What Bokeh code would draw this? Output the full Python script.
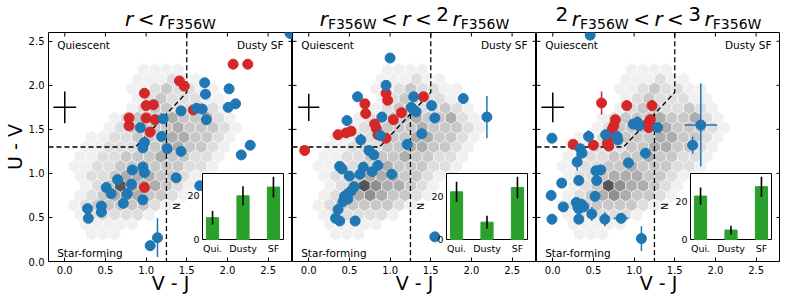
import numpy as np
from bokeh.plotting import figure
from bokeh.models import Range1d, Label, FixedTicker, PrintfTickFormatter
from bokeh.layouts import row, column
from bokeh.embed import file_html
from bokeh.resources import INLINE

# ---------------- data ----------------
X_TICKS = [0.0, 0.5, 1.0, 1.5, 2.0, 2.5]
Y_TICKS = [0.0, 0.5, 1.0, 1.5, 2.0, 2.5]

# UVJ selection boundaries
UVJ_X = [-0.2, 0.87, 1.5, 1.5]
UVJ_Y = [1.30, 1.30, 1.92, 2.6]
DSF_X = [1.25, 1.25]
DSF_Y = [1.674, 0.0]

# background hexbin (grey level per cell, rows from top, 0 = empty)
HEX_LEVELS = [
    "0000000111100000",
    "0000001112110000",
    "0000001123221100",
    "0000001232221100",
    "0000001233223210",
    "0000123334334210",
    "0000123333433321",
    "0011223334433210",
    "0011222334433210",
    "0112233343322100",
    "0112233433322100",
    "0122344433211000",
    "0012375443210000",
    "0123454332100000",
    "0123333321000000",
    "0122222100000000",
    "0011111000000000",
    "0011100000000000",
]
HEX_TOP_Y = 2.18
HEX_DY = 0.11
HEX_X0 = -0.026
HEX_DX = 0.142
GRAYS = ["#f0f0f0", "#dedede", "#c8c8c8", "#adadad", "#8f8f8f", "#727272", "#555555"]

TITLES = [
    [("r", "it"), ("<", "rel"), ("r", "it"), ("F356W", "sub")],
    [("r", "it"), ("F356W", "sub"), ("<", "rel"), ("r", "it"), ("<", "rel"),
     ("2", "num"), ("r", "it"), ("F356W", "sub")],
    [("2", "num"), ("r", "it"), ("F356W", "sub"), ("<", "rel"), ("r", "it"), ("<", "rel"),
     ("3", "num"), ("r", "it"), ("F356W", "sub")],
]

# panel 1
P1_RED_X = [2.07, 2.25, 1.41, 1.47, 0.98, 1.00, 1.09, 0.79, 0.79, 1.00, 1.11, 1.05, 0.98, 1.58]
P1_RED_Y = [2.24, 2.24, 2.05, 1.99, 1.91, 1.77, 1.78, 1.63, 1.54, 1.63, 1.61, 1.47, 0.84, 1.72]
P1_RED_XERR = [0] * 14
P1_RED_YERR = [0.05] + [0] * 13
P1_BLUE_X = [1.72, 1.73, 2.02, 2.01, 2.10, 2.28, 2.17, 1.62, 1.69, 1.74, 1.43, 1.21, 0.93, 1.19, 0.98,
             0.96, 1.26, 1.43, 0.96, 0.98, 0.83, 0.82, 0.65, 1.37, 0.51, 0.57, 0.77, 0.72, 0.96, 0.45,
             0.45, 0.28, 0.29, 1.14, 1.05, 1.66, 2.77]
P1_BLUE_Y = [2.03, 1.90, 1.96, 1.75, 1.79, 1.32, 1.21, 1.74, 1.73, 1.61, 1.71, 1.62, 1.52, 1.42, 1.35,
             1.29, 1.28, 1.25, 1.07, 1.01, 1.04, 0.88, 0.93, 0.95, 0.84, 0.77, 0.77, 0.66, 0.70, 0.63,
             0.56, 0.60, 0.49, 0.27, 0.18, 0.86, 2.59]
P1_BLUE_XERR = [0] * 37
P1_BLUE_YERR = [0, 0, 0, 0, 0.05] + [0] * 28 + [0.22, 0, 0, 0]

# panel 2
P2_RED_X = [-0.05, 0.36, 0.46, 0.52, 0.69, 0.70, 0.81, 0.83, 0.85, 0.95, 0.97, 1.04, 1.14, 1.41, 0.95]
P2_RED_Y = [1.26, 1.44, 1.46, 1.48, 1.79, 1.68, 1.56, 1.51, 1.44, 1.91, 1.83, 1.61, 1.69, 1.87, 1.40]
P2_RED_XERR = [0] * 15
P2_RED_YERR = [0] * 15
P2_BLUE_X = [1.00, 0.95, 0.60, 1.29, 1.51, 1.90, 2.19, 1.26, 1.29, 1.32, 1.55, 0.90, 0.47, 1.39, 0.64,
             0.88, 1.21, 0.74, 0.80, 0.67, 0.38, 0.41, 0.50, 0.78, 0.85, 1.02, 0.63, 0.56, 0.52, 0.48,
             0.44, 0.42, 0.48, 0.36, 0.33, 0.38, 0.57, 1.55]
P2_BLUE_Y = [2.31, 2.00, 1.87, 1.87, 1.77, 1.85, 1.64, 1.75, 1.72, 1.70, 1.63, 1.64, 1.60, 1.45, 1.38,
             1.43, 1.33, 1.26, 1.21, 1.07, 1.08, 1.05, 0.97, 1.02, 1.09, 0.99, 0.99, 0.85, 0.80, 0.77,
             0.74, 0.68, 0.71, 0.59, 0.49, 0.46, 0.46, 0.28]
P2_BLUE_XERR = [0, 0, 0, 0, 0, 0, 0.05] + [0] * 31
P2_BLUE_YERR = [0, 0, 0.06, 0, 0, 0.06, 0.24, 0, 0, 0, 0, 0, 0, 0, 0.07,
                0, 0, 0, 0, 0, 0.05] + [0] * 17

# panel 3
P3_RED_X = [0.60, 0.91, 1.22, 0.77, 0.75, 0.73, 1.20, 1.16, 1.18, 0.68, 0.25, 0.50, 0.67, 0.69]
P3_RED_Y = [1.80, 1.77, 1.77, 1.61, 1.54, 1.50, 1.61, 1.56, 1.52, 1.39, 1.33, 1.32, 1.34, 1.31]
P3_RED_XERR = [0] * 14
P3_RED_YERR = [0.13, 0.05] + [0] * 9 + [0.06, 0, 0]
P3_BLUE_X = [0.46, 1.82, 1.72, 1.29, 0.99, 1.04, 1.06, 1.14, 0.93, -0.01, 0.44, 0.65, 0.79, 0.80, 0.34,
             0.36, 0.30, 0.53, 0.59, 0.54, 0.32, 0.11, -0.02, 0.13, 0.52, 0.29, 0.31, 0.35, 0.38, 0.32,
             -0.01, 0.32, 0.48, 0.64, 0.84, 1.09]
P3_BLUE_Y = [2.57, 1.55, 1.32, 1.52, 1.56, 1.58, 1.54, 1.23, 1.12, 1.40, 1.42, 1.44, 1.42, 1.38, 1.28,
             1.23, 1.13, 1.03, 1.04, 0.92, 0.92, 0.89, 0.75, 0.62, 0.74, 0.67, 0.62, 0.65, 0.62, 0.60,
             0.48, 0.48, 0.54, 0.48, 0.49, 0.26]
P3_BLUE_XERR = [0, 0.20] + [0] * 32 + [0.09, 0]
P3_BLUE_YERR = [0, 0.47, 0.10, 0, 0, 0.07, 0, 0, 0, 0, 0.07, 0, 0, 0, 0,
                0, 0.10, 0, 0, 0, 0, 0, 0, 0, 0, 0, 0, 0, 0, 0,
                0, 0, 0.08, 0.08, 0, 0.14]

# typical uncertainty cross
ERR_CX = 0.0
ERR_CY = 1.75
ERR_XW = [0.14, 0.13, 0.14]
ERR_YW = [0.18, 0.155, 0.17]

# inset histograms
INSET_CATS = ["Qui.", "Dusty", "SF"]
INSET_N = [[10, 20, 24], [22, 8, 24], [23, 5, 28]]
INSET_ERR = [[3.1, 4.4, 4.8], [4.6, 2.9, 5.0], [4.6, 2.3, 5.3]]
INSET_TICKS = [0, 20]

PANELS = [
    (P1_RED_X, P1_RED_Y, P1_RED_XERR, P1_RED_YERR, P1_BLUE_X, P1_BLUE_Y, P1_BLUE_XERR, P1_BLUE_YERR),
    (P2_RED_X, P2_RED_Y, P2_RED_XERR, P2_RED_YERR, P2_BLUE_X, P2_BLUE_Y, P2_BLUE_XERR, P2_BLUE_YERR),
    (P3_RED_X, P3_RED_Y, P3_RED_XERR, P3_RED_YERR, P3_BLUE_X, P3_BLUE_Y, P3_BLUE_XERR, P3_BLUE_YERR),
]

# ---------------- layout / style ----------------
FW, FH = 244, 229
TITLE_H = 32
BOTTOM_BORDER = 36
LEFT_BORDER = 41
XR = (-0.2, 2.8)
YR = (0.0, 2.6)
PX_X = FW / (XR[1] - XR[0])
PX_Y = FH / (YR[1] - YR[0])
TICK_LEN = 4
RED = "#d62728"
BLUE = "#1f77b4"
GREEN = "#2ca02c"
FONT = "DejaVu Sans"
INSET_BOX = (154, 235, 22, 88)   # px inside frame: left, right, bottom, top
INSET_XLIM = (-0.33, 2.33)

ADV = {"r": 0.411, "<": 0.838, "2": 0.636, "3": 0.636, "5": 0.636, "6": 0.636,
       "F": 0.575, "W": 0.989}
MAIN_FS, SUB_FS, REL_PAD, NUM_PAD = 20, 14, 4.5, 3.5
MAIN_BASE, SUB_BASE, TOP_K = 8.0, 4.5, 0.86


def adv(s, fs):
    return sum(ADV[c] for c in s) * fs


def style_axis(ax):
    ax.major_tick_in = TICK_LEN
    ax.major_tick_out = 0
    ax.minor_tick_in = 0
    ax.minor_tick_out = 0
    ax.axis_line_color = None
    ax.major_tick_line_color = "black"
    ax.major_tick_line_width = 1
    ax.major_label_text_font = FONT
    ax.major_label_text_font_size = "10px"
    ax.major_label_text_color = "black"
    ax.major_label_standoff = 4
    ax.axis_label_text_font = FONT
    ax.axis_label_text_font_size = "19px"
    ax.axis_label_text_font_style = "normal"
    ax.axis_label_text_color = "black"


def make_title(i, x_range):
    first = i == 0
    t = figure(frame_width=FW, frame_height=TITLE_H, x_range=x_range, y_range=Range1d(0, TITLE_H),
               x_axis_type=None, y_axis_type=None, output_backend="svg", toolbar_location=None,
               min_border_left=LEFT_BORDER if first else 0, min_border_right=0,
               min_border_top=0, min_border_bottom=0)
    t.grid.visible = False
    t.outline_line_color = None
    t.background_fill_color = "white"
    t.border_fill_color = "white"
    pieces = []
    x = 0.0
    for txt, kind in TITLES[i]:
        if kind == "rel":
            x += REL_PAD
            pieces.append((txt, x, MAIN_FS, "normal", False))
            x += adv(txt, MAIN_FS) + REL_PAD
        elif kind == "it":
            pieces.append((txt, x, MAIN_FS, "italic", False))
            x += adv(txt, MAIN_FS)
        elif kind == "num":
            pieces.append((txt, x, MAIN_FS, "normal", False))
            x += adv(txt, MAIN_FS) + NUM_PAD
        else:
            pieces.append((txt, x, SUB_FS, "normal", True))
            x += adv(txt, SUB_FS)
    total = x
    for txt, px, fs, style, sub in pieces:
        xd = XR[0] + (FW / 2 - total / 2 + px) / PX_X
        yd = (SUB_BASE if sub else MAIN_BASE) + TOP_K * fs
        t.text(x=[xd], y=[yd], text=[txt], text_font={"value": FONT}, text_font_size=f"{fs}px",
               text_font_style=style, text_baseline="top", text_align="left",
               text_color="black")
    return t


def errbars(p, x, y, xe, ye, color):
    x, y, xe, ye = map(np.asarray, (x, y, xe, ye))
    m = ye > 0
    if m.any():
        p.segment(x0=x[m], y0=y[m] - ye[m], x1=x[m], y1=y[m] + ye[m], line_color=color, line_width=1.5)
    m = xe > 0
    if m.any():
        p.segment(x0=x[m] - xe[m], y0=y[m], x1=x[m] + xe[m], y1=y[m], line_color=color, line_width=1.5)


def make_panel(i):
    first = i == 0
    p = figure(frame_width=FW, frame_height=FH, x_range=Range1d(*XR), y_range=Range1d(*YR),
               output_backend="svg", toolbar_location=None,
               min_border_left=LEFT_BORDER if first else 0, min_border_right=0,
               min_border_top=0, min_border_bottom=BOTTOM_BORDER)
    p.grid.visible = False
    p.outline_line_color = "black"
    p.outline_line_width = 1
    p.outline_line_alpha = 1
    p.background_fill_color = "white"
    p.border_fill_color = "white"

    xa = p.xaxis[0]
    xa.ticker = FixedTicker(ticks=X_TICKS)
    xa.formatter = PrintfTickFormatter(format="%.1f")
    style_axis(xa)
    xa.axis_label = "V - J"
    xa.axis_label_standoff = -5

    if first:
        ya = p.yaxis[0]
        ya.ticker = FixedTicker(ticks=Y_TICKS)
        ya.formatter = PrintfTickFormatter(format="%.1f")
        style_axis(ya)
        ya.axis_label = "U - V"
        ya.axis_label_standoff = 0
    else:
        p.yaxis.visible = False

    # hexbin background
    hx, hy, hc = [], [], []
    for r, rowstr in enumerate(HEX_LEVELS):
        yv = HEX_TOP_Y - r * HEX_DY
        off = HEX_DX / 2 if r % 2 == 1 else 0.0
        for m, ch in enumerate(rowstr):
            lvl = int(ch)
            if lvl > 0:
                hx.append(HEX_X0 + off + m * HEX_DX)
                hy.append(yv)
                hc.append(GRAYS[lvl - 1])
    p.scatter(hx, hy, marker="hex", size=13.2, angle=np.pi / 6, fill_color=hc,
              line_color="white", line_width=0.5)

    # inward ticks on the other frame sides
    xt = np.array(X_TICKS)
    yt = np.array(Y_TICKS)
    p.segment(x0=xt, y0=[YR[1]] * len(xt), x1=xt, y1=[YR[1] - TICK_LEN / PX_Y] * len(xt),
              line_color="black", line_width=1)
    p.segment(x0=[XR[1]] * len(yt), y0=yt, x1=[XR[1] - TICK_LEN / PX_X] * len(yt), y1=yt,
              line_color="black", line_width=1)
    if not first:
        p.segment(x0=[XR[0]] * len(yt), y0=yt, x1=[XR[0] + TICK_LEN / PX_X] * len(yt), y1=yt,
                  line_color="black", line_width=1)

    # selection lines
    p.line(UVJ_X, UVJ_Y, line_color="black", line_width=1.3, line_dash="5 3")
    p.line(DSF_X, DSF_Y, line_color="black", line_width=1.3, line_dash="5 3")

    # typical error cross
    p.segment(x0=[ERR_CX - ERR_XW[i]], y0=[ERR_CY], x1=[ERR_CX + ERR_XW[i]], y1=[ERR_CY],
              line_color="black", line_width=1.5)
    p.segment(x0=[ERR_CX], y0=[ERR_CY - ERR_YW[i]], x1=[ERR_CX], y1=[ERR_CY + ERR_YW[i]],
              line_color="black", line_width=1.5)

    rx, ry, rxe, rye, bx, by, bxe, bye = PANELS[i]
    errbars(p, rx, ry, rxe, rye, RED)
    p.scatter(rx, ry, size=10, fill_color=RED, line_color=RED)
    errbars(p, bx, by, bxe, bye, BLUE)
    p.scatter(bx, by, size=10, fill_color=BLUE, line_color=BLUE)

    # region labels
    for txt, xd, yd, al in [("Quiescent", XR[0] + 8.7 / PX_X, YR[1] - 12 / PX_Y, "left"),
                            ("Dusty SF", XR[1] - 9 / PX_X, YR[1] - 12 / PX_Y, "right"),
                            ("Star-forming", XR[0] + 8.7 / PX_X, YR[0] + 9 / PX_Y, "left")]:
        p.add_layout(Label(x=xd, y=yd, text=txt, text_font=FONT, text_font_size="10.5px",
                           text_baseline="alphabetic", text_align=al, text_color="black"))

    # inset histogram
    n = np.array(INSET_N[i], dtype=float)
    e = np.array(INSET_ERR[i], dtype=float)
    iyt = 1.05 * float(np.max(n + e))
    l_px, r_px, b_px, t_px = INSET_BOX
    sx = (INSET_XLIM[1] - INSET_XLIM[0]) / (r_px - l_px)
    x0 = INSET_XLIM[0] - l_px * sx
    sy = iyt / (t_px - b_px)
    y0 = -b_px * sy
    p.extra_x_ranges = {"ix": Range1d(x0, x0 + FW * sx)}
    p.extra_y_ranges = {"iy": Range1d(y0, y0 + FH * sy)}
    kw = dict(x_range_name="ix", y_range_name="iy")
    p.quad(left=[INSET_XLIM[0]], right=[INSET_XLIM[1]], bottom=[0], top=[iyt],
           fill_color="white", line_color="black", line_width=1, **kw)
    xs = list(range(len(INSET_CATS)))
    p.vbar(x=xs, top=n, bottom=0, width=0.4, fill_color=GREEN, line_color=GREEN, **kw)
    p.segment(x0=xs, y0=n - e, x1=xs, y1=n + e, line_color="black", line_width=1.6, **kw)
    p.text(x=[INSET_XLIM[0]] * len(INSET_TICKS), y=INSET_TICKS, text=[str(t) for t in INSET_TICKS],
           x_offset=-3, text_align="right", text_baseline="middle", text_font_size="9.5px",
           text_color="black", text_font={"value": FONT}, **kw)
    p.text(x=xs, y=[-3 * sy] * len(xs), text=INSET_CATS, text_align="center", text_baseline="top",
           text_font_size="9.5px", text_color="black", text_font={"value": FONT}, **kw)
    p.text(x=[INSET_XLIM[0] - 26 * sx], y=[iyt / 2], text=["N"], angle=np.pi / 2,
           text_align="center", text_baseline="middle", text_font_size="9.5px",
           text_color="black", text_font={"value": FONT}, **kw)
    return p


cols = []
for i in range(3):
    p = make_panel(i)
    t = make_title(i, p.x_range)
    cols.append(column(t, p))
layout = row(*cols)
open("out.html", "w").write(file_html(layout, INLINE))
